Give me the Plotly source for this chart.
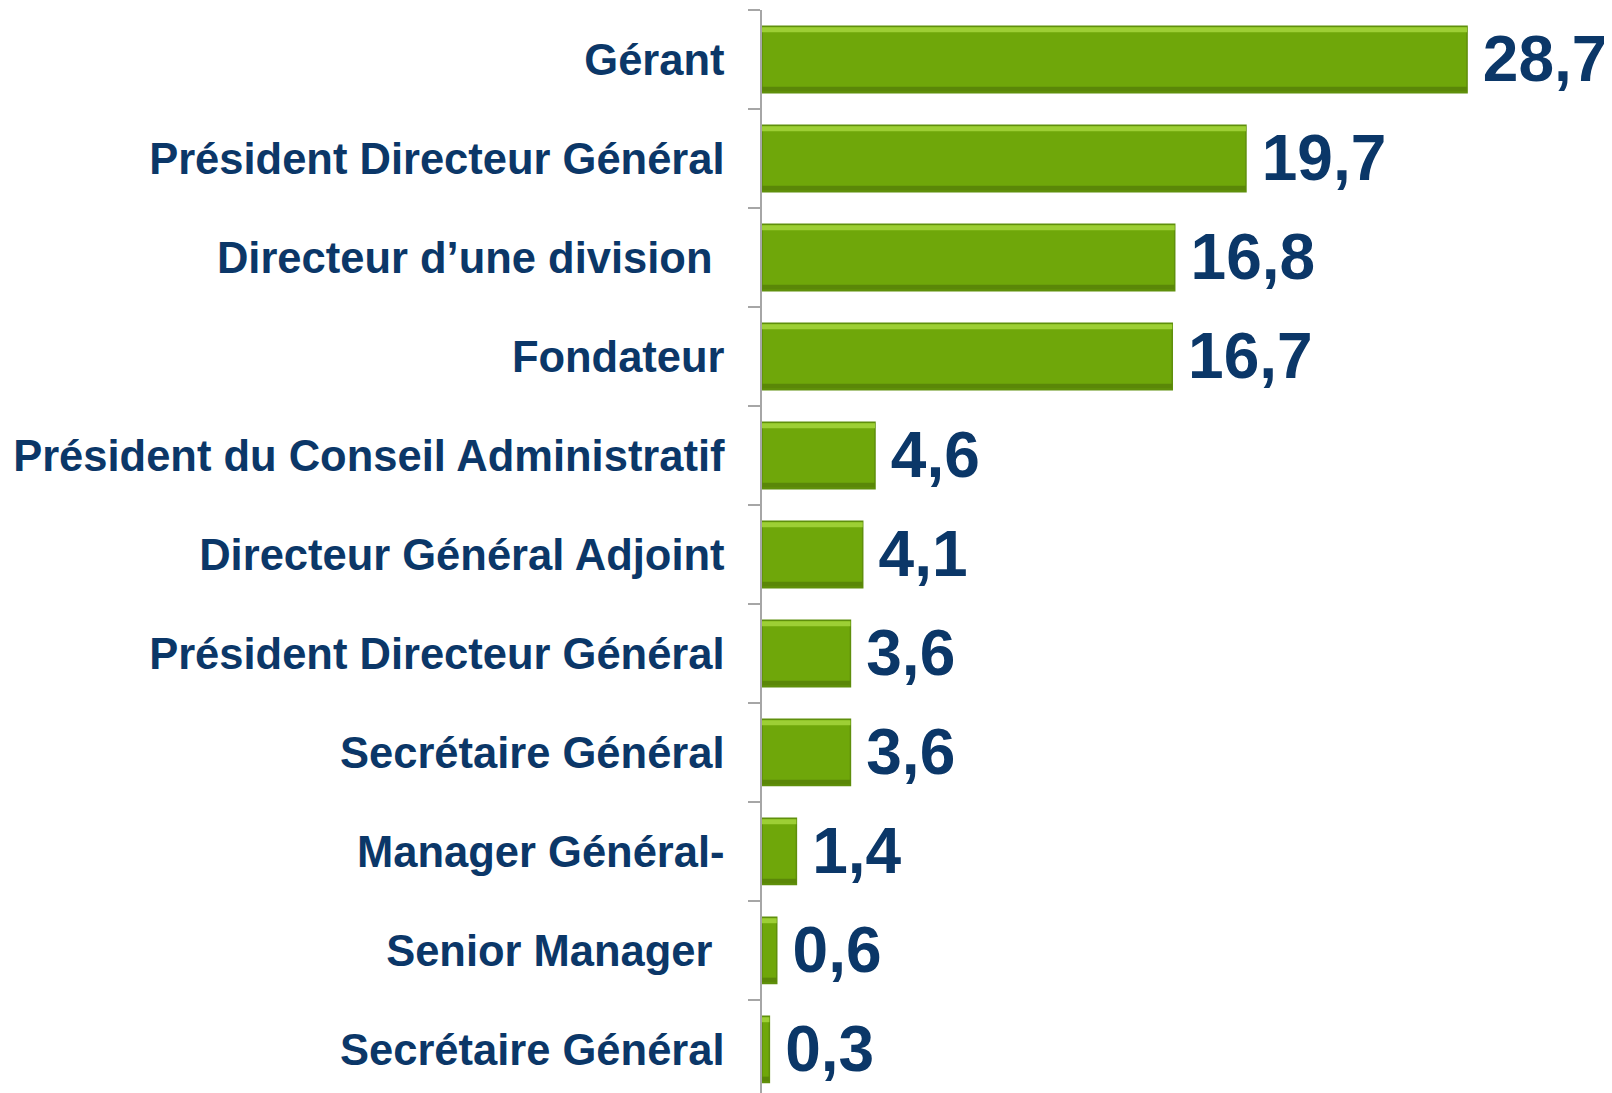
import plotly.graph_objects as go

categories = [
    "Gérant",
    "Président Directeur Général",
    "Directeur d\u2019une division\u00a0",
    "Fondateur",
    "Président du Conseil Administratif",
    "Directeur Général Adjoint",
    "Président Directeur Général",
    "Secrétaire Général",
    "Manager Général-",
    "Senior Manager\u00a0",
    "Secrétaire Général",
]
values = [28.7, 19.7, 16.8, 16.7, 4.6, 4.1, 3.6, 3.6, 1.4, 0.6, 0.3]
value_labels = ["28,7", "19,7", "16,8", "16,7", "4,6", "4,1", "3,6", "3,6", "1,4", "0,6", "0,3"]

positions = list(range(len(categories)))
boundaries = [p - 0.5 for p in positions]

NAVY = "#0b3768"

fig = go.Figure()
fig.add_trace(go.Bar(
    x=values,
    y=positions,
    orientation="h",
    width=0.67,
    marker=dict(color="#6fa70a", line=dict(color="#5f8f0c", width=1.5)),
    text=["\u2009" + t for t in value_labels],
    textposition="outside",
    constraintext="none",
    cliponaxis=False,
    textfont=dict(family="Liberation Sans, Arial, sans-serif", size=64, color=NAVY, weight="bold"),
    hoverinfo="skip",
))
# bevel highlight (top) and shade (bottom)
fig.add_trace(go.Bar(
    x=values, y=positions, orientation="h", width=0.05, offset=-0.325,
    marker=dict(color="#9dcf35", line=dict(width=0)), hoverinfo="skip",
))
fig.add_trace(go.Bar(
    x=values, y=positions, orientation="h", width=0.05, offset=0.275,
    marker=dict(color="#5a8708", line=dict(width=0)), hoverinfo="skip",
))

fig.update_layout(
    width=1604,
    height=1085,
    margin=dict(l=754, r=0, t=2, b=0),
    paper_bgcolor="white",
    plot_bgcolor="white",
    showlegend=False,
    barmode="overlay",
)
fig.update_xaxes(
    range=[0, 34.6],
    visible=False,
    showgrid=False,
    zeroline=False,
    automargin=False,
)
fig.update_yaxes(
    range=[10.44, -0.5],
    automargin=False,
    tickmode="array",
    tickvals=positions,
    ticktext=categories,
    ticks="",
    ticklabelstandoff=27,
    tickfont=dict(family="Liberation Sans, Arial, sans-serif", size=43.5, color=NAVY, weight="bold"),
    showline=True,
    linecolor="#a6a6a6",
    linewidth=1.5,
    showgrid=False,
    zeroline=False,
    minor=dict(
        tickmode="array",
        tickvals=boundaries,
        ticks="outside",
        ticklen=12,
        tickcolor="#a6a6a6",
        tickwidth=1.5,
        showgrid=False,
    ),
)

fig.write_html("out.html")
